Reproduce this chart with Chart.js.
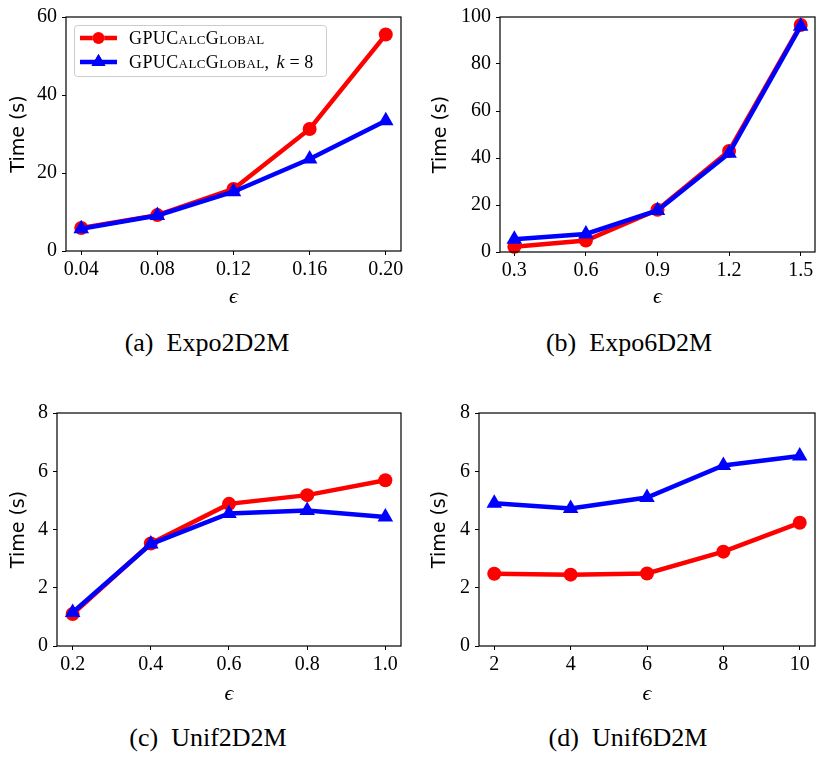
<!DOCTYPE html>
<html>
<head>
<meta charset="utf-8">
<script src="https://cdn.jsdelivr.net/npm/chart.js@4.4.1/dist/chart.umd.min.js"></script>
<style>
  html, body { margin: 0; padding: 0; background: #fff; overflow: hidden; }
  body { position: relative; width: 823px; height: 761px; }
  canvas { position: absolute; }
  .caption {
    position: absolute; width: 300px; text-align: center;
    font-family: "Liberation Serif", serif; font-size: 26px; line-height: 30px;
    color: #000; white-space: nowrap;
  }
</style>
</head>
<body>
<canvas id="expo2d" width="411" height="315" style="left:0;top:0"></canvas>
<canvas id="expo6d" width="412" height="315" style="left:412px;top:0"></canvas>
<canvas id="unif2d" width="411" height="315" style="left:0;top:396px"></canvas>
<canvas id="unif6d" width="412" height="315" style="left:412px;top:396px"></canvas>

<div class="caption" style="left:57px;top:328px">(a)&ensp;Expo2D2M</div>
<div class="caption" style="left:479px;top:328px">(b)&ensp;Expo6D2M</div>
<div class="caption" style="left:58px;top:723px">(c)&ensp;Unif2D2M</div>
<div class="caption" style="left:478px;top:723px">(d)&ensp;Unif6D2M</div>

<script>
// epsilon values and run times (seconds) per dataset
const expo2dEps = [0.04, 0.08, 0.12, 0.16, 0.20];
const expo2dTicks = ["0.04", "0.08", "0.12", "0.16", "0.20"];
const expo2dGlobal = [5.9, 9.2, 15.9, 31.3, 55.5];
const expo2dGlobalK8 = [5.7, 9.1, 15.2, 23.6, 33.4];

const expo6dEps = [0.3, 0.6, 0.9, 1.2, 1.5];
const expo6dTicks = ["0.3", "0.6", "0.9", "1.2", "1.5"];
const expo6dGlobal = [2.2, 4.9, 18.0, 43.0, 96.6];
const expo6dGlobalK8 = [5.4, 7.7, 17.7, 42.0, 96.1];

const unif2dEps = [0.2, 0.4, 0.6, 0.8, 1.0];
const unif2dTicks = ["0.2", "0.4", "0.6", "0.8", "1.0"];
const unif2dGlobal = [1.1, 3.52, 4.88, 5.18, 5.69];
const unif2dGlobalK8 = [1.15, 3.5, 4.55, 4.65, 4.43];

const unif6dEps = [2, 4, 6, 8, 10];
const unif6dTicks = ["2", "4", "6", "8", "10"];
const unif6dGlobal = [2.48, 2.45, 2.49, 3.24, 4.23];
const unif6dGlobalK8 = [4.9, 4.72, 5.1, 6.2, 6.52];

const RED = "#ff0000";
const BLUE = "#0000ff";
const SERIF = "'Liberation Serif', 'DejaVu Serif', serif";

// full box around the plot area, like matplotlib spines
const frame = {
  id: "frame",
  afterDraw(chart) {
    const { left, top, right, bottom } = chart.chartArea;
    const ctx = chart.ctx;
    ctx.save();
    ctx.strokeStyle = "#000";
    ctx.lineWidth = 1.2;
    ctx.strokeRect(left, top, right - left, bottom - top);
    ctx.restore();
  }
};

// legend with a line sample and marker, small-caps method name
const lineLegend = {
  id: "lineLegend",
  afterDraw(chart, args, opts) {
    if (!opts.show) return;
    const ctx = chart.ctx;
    const { left, top } = chart.chartArea;
    const bx = left + 8, by = top + 8, bw = 252, bh = 51;
    ctx.save();
    ctx.fillStyle = "rgba(255,255,255,0.85)";
    ctx.strokeStyle = "#cccccc";
    ctx.lineWidth = 1;
    ctx.beginPath();
    ctx.roundRect(bx + 0.5, by + 0.5, bw, bh, 3);
    ctx.fill();
    ctx.stroke();

    // red series first, then blue
    const rows = [chart.data.datasets[1], chart.data.datasets[0]];
    rows.forEach((ds, i) => {
      const cy = by + 13 + i * 24;
      ctx.strokeStyle = ds.borderColor;
      ctx.lineWidth = ds.borderWidth;
      ctx.beginPath();
      ctx.moveTo(bx + 6, cy);
      ctx.lineTo(bx + 43, cy);
      ctx.stroke();
      Chart.helpers.drawPoint(ctx, {
        pointStyle: ds.pointStyle, radius: ds.pointRadius - 1, borderWidth: 0, rotation: 0
      }, bx + 24.5, cy);
      ctx.fillStyle = ds.backgroundColor;
      ctx.fill();

      let tx = bx + 55;
      ctx.fillStyle = "#000";
      ctx.textBaseline = "middle";
      ctx.textAlign = "left";
      ctx.font = "18px " + SERIF;
      ctx.fontVariantCaps = "small-caps";
      ctx.letterSpacing = "0.4px";
      ctx.fillText("GPUCalcGlobal", tx, cy + 1);
      tx += ctx.measureText("GPUCalcGlobal").width;
      ctx.fontVariantCaps = "normal";
      ctx.letterSpacing = "0px";
      if (ds.extra) {
        ctx.fillText(", ", tx, cy + 1);
        tx += ctx.measureText(", ").width + 3;
        ctx.font = "italic 18px " + SERIF;
        ctx.fillText("k", tx, cy + 1);
        tx += ctx.measureText("k").width + 5;
        ctx.font = "18px " + SERIF;
        ctx.fillText("= 8", tx, cy + 1);
      }
    });
    ctx.restore();
  }
};

function buildChart(id, o) {
  const span = o.eps[o.eps.length - 1] - o.eps[0];
  return new Chart(document.getElementById(id), {
    type: "line",
    data: {
      datasets: [
        {
          label: "GPUCalcGlobal, k = 8",
          extra: true,
          data: o.eps.map((x, i) => ({ x, y: o.k8[i] })),
          borderColor: BLUE,
          backgroundColor: BLUE,
          borderWidth: 4.5,
          pointStyle: "triangle",
          pointRadius: 9,
          pointBorderWidth: 0,
          order: 1,
          clip: false
        },
        {
          label: "GPUCalcGlobal",
          data: o.eps.map((x, i) => ({ x, y: o.global[i] })),
          borderColor: RED,
          backgroundColor: RED,
          borderWidth: 4.5,
          pointStyle: "circle",
          pointRadius: 7,
          pointBorderWidth: 0,
          order: 2,
          clip: false
        }
      ]
    },
    options: {
      responsive: false,
      animation: false,
      layout: { padding: { top: o.top, right: o.right, left: 0, bottom: 0 } },
      scales: {
        x: {
          type: "linear",
          min: o.eps[0] - 0.05 * span,
          max: o.eps[o.eps.length - 1] + 0.05 * span,
          afterBuildTicks: s => { s.ticks = o.eps.map(v => ({ value: v })) },
          afterFit: s => { s.height = o.xh },
          ticks: {
            callback: (v, i) => o.ticks[i],
            font: { family: SERIF, size: 20 },
            color: "#000",
            padding: 3,
            maxRotation: 0,
            autoSkip: false
          },
          grid: { drawOnChartArea: false, drawTicks: true, tickLength: 4, color: "#000", lineWidth: 1 },
          border: { display: false },
          title: {
            display: true,
            text: "ϵ",
            font: { family: SERIF, size: 22, style: "italic" },
            color: "#000",
            padding: { top: 0, bottom: o.epsPad }
          }
        },
        y: {
          min: 0,
          max: o.ymax,
          afterFit: s => { s.width = o.yw },
          ticks: {
            stepSize: o.ystep,
            font: { family: SERIF, size: 20 },
            color: "#000",
            padding: 5
          },
          grid: { drawOnChartArea: false, drawTicks: true, tickLength: 4, color: "#000", lineWidth: 1 },
          border: { display: false },
          title: {
            display: true,
            text: "Time (s)",
            font: { family: "'DejaVu Sans', sans-serif", size: 19 },
            color: "#000",
            padding: { top: o.titlePad, bottom: 0 }
          }
        }
      },
      plugins: {
        legend: { display: false },
        tooltip: { enabled: false },
        lineLegend: { show: !!o.legend }
      }
    },
    plugins: [frame, lineLegend]
  });
}

buildChart("expo2d", {
  eps: expo2dEps, ticks: expo2dTicks, global: expo2dGlobal, k8: expo2dGlobalK8,
  ymax: 60, ystep: 20, top: 9, right: 10, yw: 66, xh: 64, epsPad: 5, titlePad: 8, legend: true
});
buildChart("expo6d", {
  eps: expo6dEps, ticks: expo6dTicks, global: expo6dGlobal, k8: expo6dGlobalK8,
  ymax: 100, ystep: 20, top: 10, right: 0, yw: 88, xh: 63, epsPad: 5, titlePad: 18
});
buildChart("unif2d", {
  eps: unif2dEps, ticks: unif2dTicks, global: unif2dGlobal, k8: unif2dGlobalK8,
  ymax: 8, ystep: 2, top: 9, right: 10, yw: 57, xh: 65, epsPad: 4, titlePad: 8
});
buildChart("unif6d", {
  eps: unif6dEps, ticks: unif6dTicks, global: unif6dGlobal, k8: unif6dGlobalK8,
  ymax: 8, ystep: 2, top: 9, right: 0, yw: 67, xh: 65, epsPad: 4, titlePad: 17
});
</script>
</body>
</html>
